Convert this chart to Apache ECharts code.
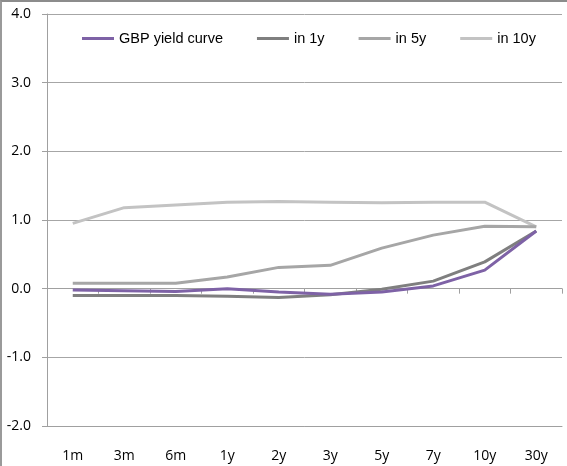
<!DOCTYPE html>
<html>
<head>
<meta charset="utf-8">
<script src="https://cdn.jsdelivr.net/npm/echarts@6/dist/echarts.min.js"></script>
<style>
  html, body { margin: 0; padding: 0; background: #fff; }
  .frame {
    position: absolute; left: 0; top: 0;
    width: 580px; height: 480px;
    border-top: 2px solid #8c8c8c;
    border-left: 2px solid #9a9a9a;
    box-sizing: border-box;
  }
  #chart { position: absolute; left: 0; top: 0; width: 567px; height: 466px; }
</style>
</head>
<body>
<div class="frame"></div>
<div id="chart"></div>
<script>
// 期限
const tenors = ['1m', '3m', '6m', '1y', '2y', '3y', '5y', '7y', '10y', '30y'];

// 各曲线数值 (%)
const gbpCurve = [-0.02, -0.03, -0.04, 0.00, -0.05, -0.08, -0.05, 0.04, 0.27, 0.84];
const in1y     = [-0.10, -0.10, -0.10, -0.11, -0.13, -0.09, -0.01, 0.11, 0.39, 0.84];
const in5y     = [0.08, 0.08, 0.08, 0.17, 0.31, 0.34, 0.59, 0.78, 0.91, 0.90];
const in10y    = [0.95, 1.18, 1.22, 1.26, 1.27, 1.26, 1.25, 1.26, 1.26, 0.90];

const yTicks = [-2, -1, 0, 1, 2, 3, 4];

const seriesNames = ['GBP yield curve', 'in 1y', 'in 5y', 'in 10y'];
const seriesColors = ['#7e62a6', '#7f7f7f', '#a6a6a6', '#c3c3c3'];
const seriesData = [gbpCurve, in1y, in5y, in10y];

const chart = echarts.init(document.getElementById('chart'), null, { renderer: 'canvas' });

const option = {
  animation: false,
  backgroundColor: 'transparent',
  textStyle: { fontFamily: 'Open Sans' },
  legend: {
    top: 26,
    left: 77,
    itemWidth: 32,
    itemHeight: 3,
    itemGap: 34,
    icon: 'rect',
    textStyle: {
      fontFamily: '"Liberation Sans", sans-serif',
      fontSize: 14.5,
      color: '#000'
    },
    data: seriesNames
  },
  grid: {
    left: 47,
    right: 5,
    top: 14,
    bottom: 40
  },
  xAxis: [
    {
      type: 'category',
      data: tenors,
      position: 'bottom',
      axisLine: { onZero: false, lineStyle: { color: '#a0a0a0' } },
      axisTick: { show: false },
      axisLabel: {
        color: '#000',
        fontSize: 14,
        margin: 23,
        fontFamily: 'Open Sans'
      }
    },
    {
      type: 'category',
      data: tenors,
      position: 'top',
      axisLine: { onZero: true, lineStyle: { color: '#a0a0a0' } },
      axisTick: { show: true, inside: true, length: 5, lineStyle: { color: '#a0a0a0' } },
      axisLabel: { show: false }
    }
  ],
  yAxis: {
    type: 'value',
    min: yTicks[0],
    max: yTicks[yTicks.length - 1],
    interval: 1,
    axisLine: { show: true, lineStyle: { color: '#a0a0a0' } },
    axisTick: { show: true, length: 5, lineStyle: { color: '#a0a0a0' } },
    splitLine: { lineStyle: { color: '#a6a6a6', width: 1 } },
    axisLabel: {
      color: '#000',
      fontSize: 14,
      margin: 16,
      fontFamily: 'Open Sans',
      formatter: v => v.toFixed(1)
    }
  },
  series: seriesData.map((d, i) => ({
    name: seriesNames[i],
    type: 'line',
    data: d,
    xAxisIndex: 0,
    symbol: 'none',
    z: 10 - i,
    color: seriesColors[i],
    lineStyle: { width: 3, color: seriesColors[i] }
  }))
};

chart.setOption(option);
</script>
</body>
</html>
